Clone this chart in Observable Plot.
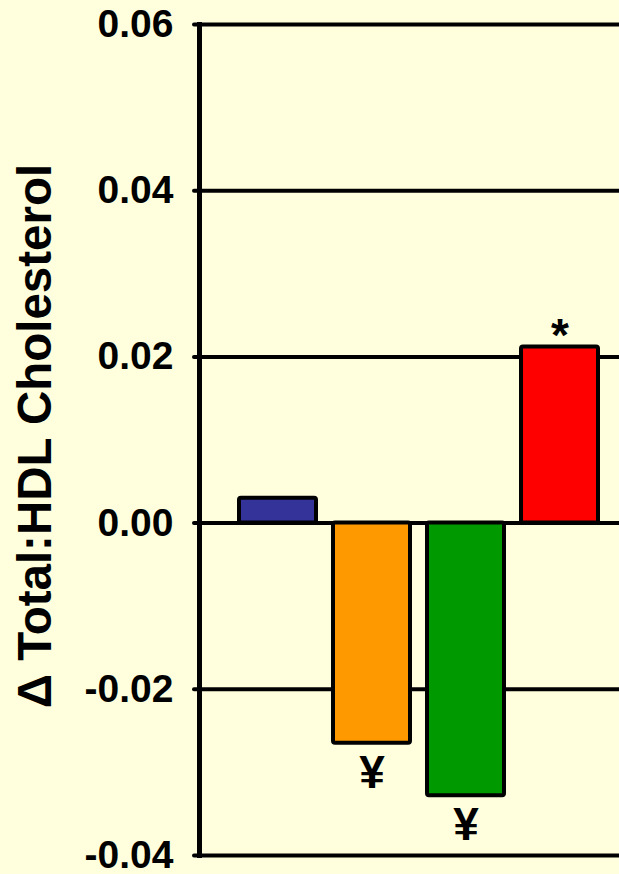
<!DOCTYPE html>
<html>
<head>
<meta charset="utf-8">
<script src="https://cdn.jsdelivr.net/npm/d3@7"></script>
<script src="https://cdn.jsdelivr.net/npm/@observablehq/plot@0.6"></script>
<style>
  html, body { margin: 0; padding: 0; background: #FFFFDD; }
  #chart svg { display: block; }
</style>
</head>
<body>
<div id="chart"></div>
<script>
const groups = ["A", "B", "C", "D"];
const values = [0.003, -0.0265, -0.0328, 0.0212];
const colors = ["#333399", "#FF9900", "#009900", "#FF0000"];
const marks = ["", "¥", "¥", "*"];
const yTicks = [-0.04, -0.02, 0.00, 0.02, 0.04, 0.06];
const yLabel = "Δ Total:HDL Cholesterol";

const data = groups.map((g, i) => ({group: g, value: values[i], color: colors[i], mark: marks[i]}));
const font = "'Liberation Sans', Arial, Helvetica, sans-serif";

const chart = Plot.plot({
  width: 619,
  height: 874,
  marginLeft: 199,
  marginRight: 0,
  marginTop: 24,
  marginBottom: 19,
  style: {background: "#FFFFDD", fontFamily: font, overflow: "visible"},
  x: {domain: groups, axis: null, paddingInner: 0.176, paddingOuter: 0.3055, align: 0.656},
  y: {domain: [-0.04, 0.06], axis: null},
  color: {type: "identity"},
  marks: [
    Plot.gridY(yTicks, {stroke: "black", strokeOpacity: 1, strokeWidth: 4}),
    Plot.axisY(yTicks, {
      tickSize: 5, tickPadding: 21, strokeWidth: 4, strokeLinecap: "round",
      tickFormat: d => d.toFixed(2), fontSize: 39, fontWeight: "bold", fontFamily: font,
      fill: "black", label: null
    }),
    Plot.frame({anchor: "left", stroke: "black", strokeWidth: 5}),
    Plot.barY(data, {x: "group", y: "value", fill: "color", stroke: "black", strokeWidth: 4, rx: 2}),
    Plot.text(data.filter(d => d.mark === "¥"), {
      x: "group", y: "value", text: "mark", dy: 30, lineAnchor: "middle",
      fontSize: 46, fontWeight: "bold", fontFamily: font, fill: "black"
    }),
    Plot.text(data.filter(d => d.mark === "*"), {
      x: "group", y: "value", text: "mark", dy: -11, lineAnchor: "middle",
      fontSize: 46, fontWeight: "bold", fontFamily: font, fill: "black"
    }),
    Plot.text([yLabel], {
      frameAnchor: "left", textAnchor: "middle", lineAnchor: "middle", rotate: -90, dx: -164, dy: -4,
      fontSize: 47.5, fontWeight: "bold", fontFamily: font, fill: "black"
    })
  ]
});
document.getElementById("chart").appendChild(chart);
</script>
</body>
</html>
